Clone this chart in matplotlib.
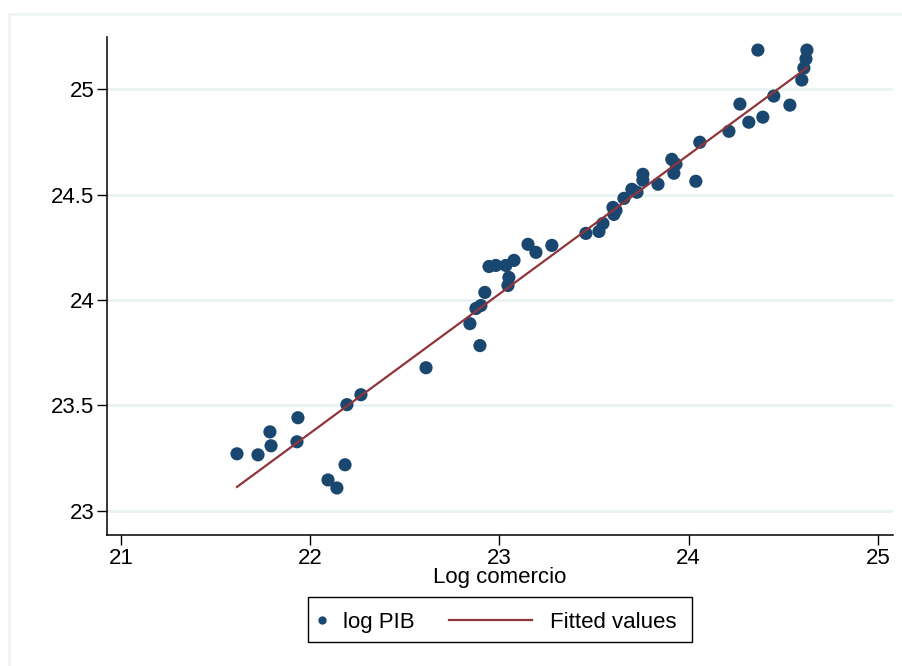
import numpy as np
import matplotlib
matplotlib.use('Agg')
import matplotlib.pyplot as plt
from matplotlib.patches import Rectangle
from matplotlib.lines import Line2D

plt.rcParams['font.family'] = ['Liberation Sans', 'DejaVu Sans']

# log comercio (x) and log PIB (y)
log_comercio = [21.613, 21.724, 21.787, 21.793, 21.935, 21.930, 22.094, 22.141,
                22.184, 22.194, 22.268, 22.612, 22.844, 22.876, 22.902, 22.897,
                22.923, 22.945, 22.981, 23.034, 23.077, 23.050, 23.045, 23.151,
                23.193, 23.277, 23.457, 23.526, 23.547, 23.600, 23.605, 23.616,
                23.658, 23.700, 23.727, 23.758, 23.758, 23.838, 23.911, 23.922,
                23.933, 24.038, 24.059, 24.213, 24.271, 24.318, 24.366, 24.392,
                24.450, 24.535, 24.598, 24.609, 24.620, 24.625]
log_pib = [23.271, 23.266, 23.375, 23.309, 23.442, 23.328, 23.147, 23.109,
           23.219, 23.504, 23.551, 23.679, 23.888, 23.960, 23.974, 23.784,
           24.036, 24.159, 24.164, 24.164, 24.188, 24.107, 24.069, 24.264,
           24.226, 24.259, 24.316, 24.325, 24.363, 24.439, 24.406, 24.425,
           24.482, 24.525, 24.511, 24.596, 24.568, 24.549, 24.667, 24.601,
           24.644, 24.563, 24.748, 24.800, 24.929, 24.843, 25.185, 24.867,
           24.967, 24.924, 25.043, 25.100, 25.143, 25.185]

# fitted values line endpoints
fit_x = [21.613, 24.625]
fit_y = [23.114, 25.101]

x_ticks = [21, 22, 23, 24, 25]
y_ticks = [23, 23.5, 24, 24.5, 25]
y_labels = ['23', '23.5', '24', '24.5', '25']
legend_labels = ['log PIB', 'Fitted values']

navy = '#1a476f'
maroon = '#90353b'
grid_col = '#eaf2f3'
fs = 16
W, H = 903, 666


def fx(px):
    return px / W


def fy(py):
    return 1 - py / H


fig = plt.figure(figsize=(W / 100, H / 100), dpi=100)
# faint outer frame like Stata's graph region
fig.patches.append(Rectangle((fx(9), -0.1), 1.2, fy(14) + 0.1,
                             transform=fig.transFigure, fill=False,
                             edgecolor='#eef3f4', linewidth=2))

ax = fig.add_axes([fx(107), fy(535), fx(786), 498 / H])
ax.set_xlim(20.926, 25.08)
ax.set_ylim(22.886, 25.247)

for yv in y_ticks:
    ax.axhline(yv, color=grid_col, linewidth=2, zorder=0)

ax.scatter(log_comercio, log_pib, s=90, color=navy, edgecolors='none', zorder=3)
ax.plot(fit_x, fit_y, color=maroon, linewidth=1.6, zorder=4)

ax.spines['top'].set_visible(False)
ax.spines['right'].set_visible(False)
ax.spines['left'].set_linewidth(1.1)
ax.spines['bottom'].set_linewidth(1.1)

ax.set_xticks(x_ticks)
ax.set_xticklabels([str(v) for v in x_ticks])
ax.set_yticks(y_ticks)
ax.set_yticklabels(y_labels)
ax.tick_params(axis='both', direction='out', length=7, width=1,
               labelsize=fs, colors='black', pad=2)
ax.set_xlabel('Log comercio', fontsize=fs, labelpad=-1)

# legend drawn by hand: Stata keeps the marker key short and the line key long
fig.patches.append(Rectangle((fx(308), fy(642)), fx(384), 45 / H,
                             transform=fig.transFigure, fill=False,
                             edgecolor='black', linewidth=1))
fig.add_artist(Line2D([fx(322)], [fy(620)], marker='o', markersize=6,
                      color=navy, markeredgewidth=0,
                      transform=fig.transFigure))
fig.text(fx(343), fy(620), legend_labels[0], fontsize=fs,
         ha='left', va='center_baseline')
fig.add_artist(Line2D([fx(449), fx(532)], [fy(620), fy(620)], color=maroon,
                      linewidth=1.6, transform=fig.transFigure))
fig.text(fx(550), fy(620), legend_labels[1], fontsize=fs,
         ha='left', va='center_baseline')

fig.savefig('out.png', dpi=100)
